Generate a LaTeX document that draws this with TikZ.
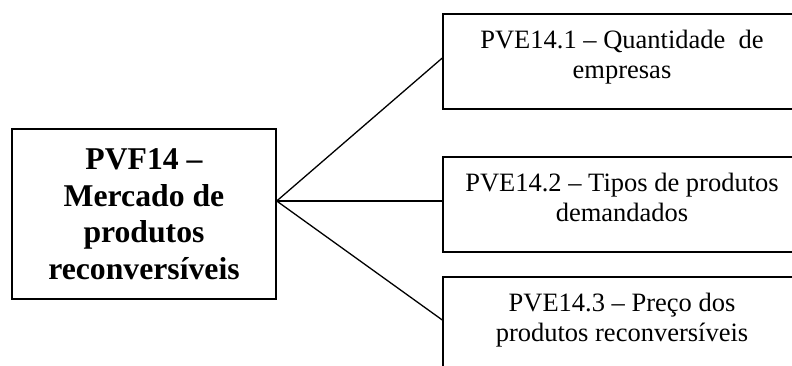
\documentclass[tikz,border=0pt]{standalone}
\usepackage{fontspec}
\setmainfont{Liberation Serif}
\usetikzlibrary{calc}
\begin{document}
\begin{tikzpicture}[x=1pt,y=1pt,
  box/.style={draw=black, line width=1.4pt, inner sep=0pt},
  smallbox/.style={box, minimum width=358pt, minimum height=95pt},
  txt/.style={align=center, inner sep=0pt, font=\fontsize{26.5}{30}\selectfont},
  bigtxt/.style={align=center, font=\fontsize{31.7}{36.5}\selectfont\bfseries},
  link/.style={line width=1.3pt}]
\useasboundingbox (0,0) rectangle (792,365);
\clip (0,0) rectangle (792,365);
\fill[white] (0,0) rectangle (792,365);
% left box
\node[box, minimum width=264pt, minimum height=170pt, bigtxt] (L) at (144,151)
  {PVF14 --\\Mercado de\\produtos\\reconversíveis};
% right boxes
\node[smallbox] (b1) at (622,303.5) {};
\node[smallbox] (b2) at (622,160.5) {};
\node[smallbox] (b3) at (622,40.5) {};
\node[txt, anchor=north] (t1) at ($(b1.north)+(0,-17)$) {PVE14.1 -- Quantidade\ \ de\\empresas};
\node[txt, anchor=north] (t2) at ($(b2.north)+(0,-17)$) {PVE14.2 -- Tipos de produtos\\demandados};
\node[txt, anchor=north] (t3) at ($(b3.north)+(0,-17)$) {PVE14.3 -- Preço dos\\produtos reconversíveis};
% connectors
\coordinate (hub) at ($(L.east)+(0,13)$);
\draw[link] (hub) -- ($(b1.west)+(0,3.5)$);
\draw[link] (hub) -- ($(b2.west)+(0,3.5)$);
\draw[link] (hub) -- ($(b3.west)+(0,4.5)$);
\end{tikzpicture}
\end{document}
